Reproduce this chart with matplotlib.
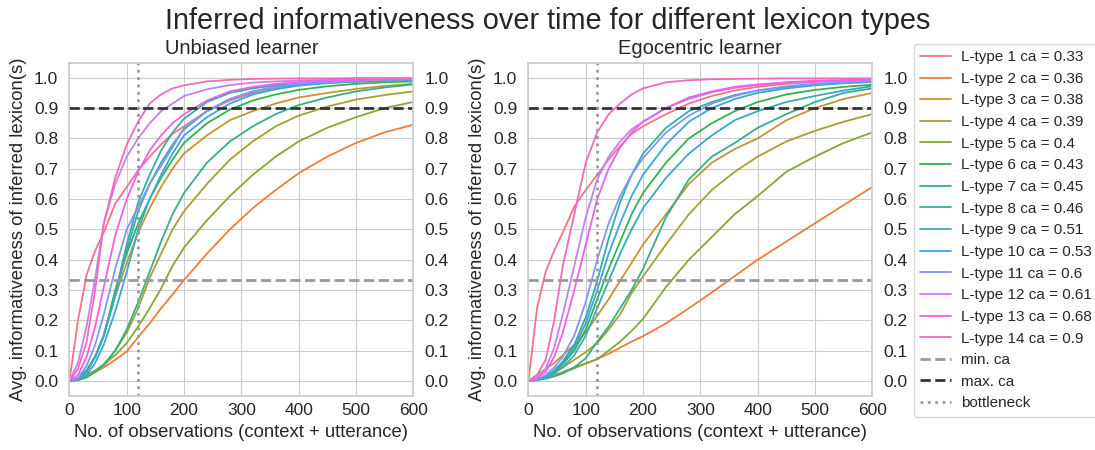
import matplotlib
matplotlib.use("Agg")
import matplotlib.pyplot as plt
import numpy as np
import seaborn as sns

# Number of observations at which the averaged informativeness is recorded
obs = [0, 15, 30, 45, 60, 80, 100, 120, 140, 160, 180, 200, 240, 280, 320, 360, 400, 450, 500, 550, 600]

ca_values = [0.33, 0.36, 0.38, 0.39, 0.4, 0.43, 0.45, 0.46, 0.51, 0.53, 0.6, 0.61, 0.68, 0.9]
min_ca = 0.333
max_ca = 0.9
bottleneck = 120

# ---- Unbiased learner -------------------------------------------------------
unbiased_1 = [0, .2, .35, .43, .49, .585, .64, .695, .74, .78, .815, .84, .89, .925, .95, .965, .977, .985, .99, .993, .995]
unbiased_2 = [0, .008, .018, .03, .045, .07, .097, .145, .19, .24, .285, .333, .42, .5, .57, .63, .685, .74, .785, .82, .845]
unbiased_3 = [0, .01, .035, .08, .15, .28, .39, .49, .57, .64, .7, .75, .81, .86, .89, .915, .935, .95, .963, .973, .98]
unbiased_4 = [0, .003, .012, .03, .05, .1, .16, .24, .34, .42, .5, .56, .65, .73, .79, .84, .875, .905, .928, .943, .955]
unbiased_5 = [0, .008, .02, .035, .055, .085, .125, .18, .24, .305, .38, .44, .53, .61, .68, .74, .79, .835, .87, .9, .92]
unbiased_6 = [0, .01, .035, .08, .15, .3, .42, .52, .6, .67, .73, .785, .85, .895, .925, .945, .96, .972, .98, .985, .988]
unbiased_7 = [0, .003, .012, .03, .055, .1, .17, .26, .36, .46, .55, .62, .72, .79, .84, .88, .91, .935, .955, .968, .978]
unbiased_8 = [0, .008, .03, .08, .15, .29, .45, .59, .68, .76, .82, .865, .92, .95, .965, .975, .98, .985, .988, .99, .992]
unbiased_9 = [0, .008, .03, .08, .15, .28, .43, .56, .65, .72, .78, .83, .89, .93, .955, .97, .978, .984, .988, .99, .992]
unbiased_10 = [0, .005, .02, .06, .12, .23, .36, .5, .6, .68, .75, .81, .87, .915, .945, .962, .974, .982, .987, .99, .992]
unbiased_11 = [0, .01, .05, .12, .22, .37, .5, .575, .65, .71, .77, .835, .89, .93, .955, .97, .98, .986, .99, .993, .995]
unbiased_12 = [0, .06, .18, .34, .52, .65, .74, .8, .85, .89, .915, .94, .962, .976, .984, .988, .991, .993, .995, .996, .997]
unbiased_13 = [0, .02, .08, .18, .31, .48, .6, .69, .76, .81, .85, .88, .925, .955, .97, .98, .986, .99, .993, .995, .996]
unbiased_14 = [0, .04, .13, .3, .52, .67, .78, .855, .915, .945, .965, .975, .988, .993, .996, .997, .998, .998, .999, .999, .999]

# ---- Egocentric learner -----------------------------------------------------
egocentric_1 = [0, .24, .36, .43, .49, .575, .63, .68, .73, .775, .815, .84, .88, .915, .94, .958, .97, .98, .986, .99, .993]
egocentric_2 = [0, .005, .012, .02, .03, .045, .058, .072, .09, .11, .13, .148, .19, .24, .292, .346, .4, .46, .52, .58, .64]
egocentric_3 = [0, .02, .04, .06, .085, .12, .16, .215, .27, .33, .39, .45, .55, .65, .72, .765, .8, .86, .9, .93, .95]
egocentric_4 = [0, .005, .015, .03, .045, .07, .095, .125, .17, .22, .29, .345, .45, .55, .63, .69, .74, .79, .825, .855, .88]
egocentric_5 = [0, .003, .01, .018, .028, .042, .058, .072, .1, .13, .165, .205, .31, .4, .475, .55, .61, .69, .74, .785, .82]
egocentric_6 = [0, .005, .015, .03, .055, .1, .17, .27, .37, .46, .55, .62, .72, .8, .85, .89, .92, .945, .96, .97, .977]
egocentric_7 = [0, .003, .008, .015, .025, .045, .075, .13, .18, .24, .3, .37, .54, .665, .74, .785, .835, .88, .92, .95, .965]
egocentric_8 = [0, .004, .015, .035, .065, .12, .21, .33, .47, .59, .68, .75, .835, .89, .92, .943, .958, .97, .978, .983, .987]
egocentric_9 = [0, .004, .012, .025, .045, .085, .15, .24, .33, .42, .5, .57, .67, .75, .81, .86, .89, .92, .94, .958, .972]
egocentric_10 = [0, .004, .015, .035, .06, .11, .19, .3, .42, .52, .61, .68, .78, .855, .9, .93, .95, .965, .975, .982, .986]
egocentric_11 = [0, .005, .02, .045, .08, .15, .26, .4, .52, .61, .68, .735, .82, .875, .915, .94, .958, .972, .98, .986, .99]
egocentric_12 = [0, .01, .04, .11, .22, .38, .54, .665, .74, .79, .83, .855, .9, .93, .952, .967, .976, .984, .989, .992, .994]
egocentric_13 = [0, .01, .03, .08, .16, .3, .45, .6, .7, .77, .82, .855, .9, .935, .955, .97, .978, .985, .99, .992, .994]
egocentric_14 = [0, .02, .07, .2, .38, .55, .72, .82, .88, .915, .945, .965, .985, .992, .995, .996, .997, .998, .998, .998, .998]

unbiased_series = [unbiased_1, unbiased_2, unbiased_3, unbiased_4, unbiased_5, unbiased_6, unbiased_7,
                   unbiased_8, unbiased_9, unbiased_10, unbiased_11, unbiased_12, unbiased_13, unbiased_14]
egocentric_series = [egocentric_1, egocentric_2, egocentric_3, egocentric_4, egocentric_5, egocentric_6,
                     egocentric_7, egocentric_8, egocentric_9, egocentric_10, egocentric_11, egocentric_12,
                     egocentric_13, egocentric_14]

sns.set_style("whitegrid")
plt.rcParams["font.family"] = ["Liberation Sans", "DejaVu Sans"]
palette = sns.color_palette("husl", len(ca_values))

fig = plt.figure(figsize=(10.95, 4.5), dpi=100)
fig.suptitle("Inferred informativeness over time for different lexicon types",
             fontsize=20.8, y=0.985, color="0.15")

panels = [
    ([0.0634, 0.1196, 0.314, 0.7413], "Unbiased learner", unbiased_series),
    ([0.4826, 0.1196, 0.314, 0.7413], "Egocentric learner", egocentric_series),
]

yticks = np.round(np.arange(0, 1.01, 0.1), 1)
ytick_labels = [f"{v:.1f}" for v in yticks]

for rect, title, series in panels:
    ax = fig.add_axes(rect)
    for i, values in enumerate(series):
        ax.plot(obs, values, color=palette[i], lw=1.3,
                label=f"L-type {i + 1} ca = {ca_values[i]:g}")
    ax.axhline(min_ca, color="0.6", ls="--", lw=2, label="min. ca")
    ax.axhline(max_ca, color="0.2", ls="--", lw=2, label="max. ca")
    ax.axvline(bottleneck, color="0.6", ls=":", lw=2, label="bottleneck")

    ax.set_xlim(0, 600)
    ax.set_ylim(-0.05, 1.05)
    ax.set_xticks(range(0, 601, 100))
    ax.set_yticks(yticks)
    ax.set_yticklabels(ytick_labels)
    ax.tick_params(axis="both", labelsize=12.5, colors="0.15", length=0)
    ax.tick_params(axis="x", pad=5)
    ax.tick_params(axis="y", pad=8)
    ax.set_title(title, fontsize=14.5, color="0.15", pad=6)
    ax.set_xlabel("No. of observations (context + utterance)", fontsize=13.3, color="0.15", labelpad=4)
    ax.set_ylabel("Avg. informativeness of inferred lexicon(s)", fontsize=13.3, color="0.15", labelpad=5)
    for sp in ax.spines.values():
        sp.set_color("0.8")
        sp.set_linewidth(1.25)

    twin = ax.twinx()
    twin.set_ylim(ax.get_ylim())
    twin.set_yticks(yticks)
    twin.set_yticklabels(ytick_labels)
    twin.grid(False)
    twin.tick_params(axis="y", labelsize=12.5, colors="0.15", length=0, pad=8)
    for sp in twin.spines.values():
        sp.set_visible(False)

handles, labels = ax.get_legend_handles_labels()
fig.legend(handles, labels, loc="upper left", bbox_to_anchor=(0.8347, 0.902),
           borderaxespad=0, fontsize=11, labelspacing=0.5, handlelength=2.0,
           handletextpad=0.7, borderpad=0.4, frameon=True, edgecolor="0.8", fancybox=True)

fig.savefig("out.png", dpi=100)
